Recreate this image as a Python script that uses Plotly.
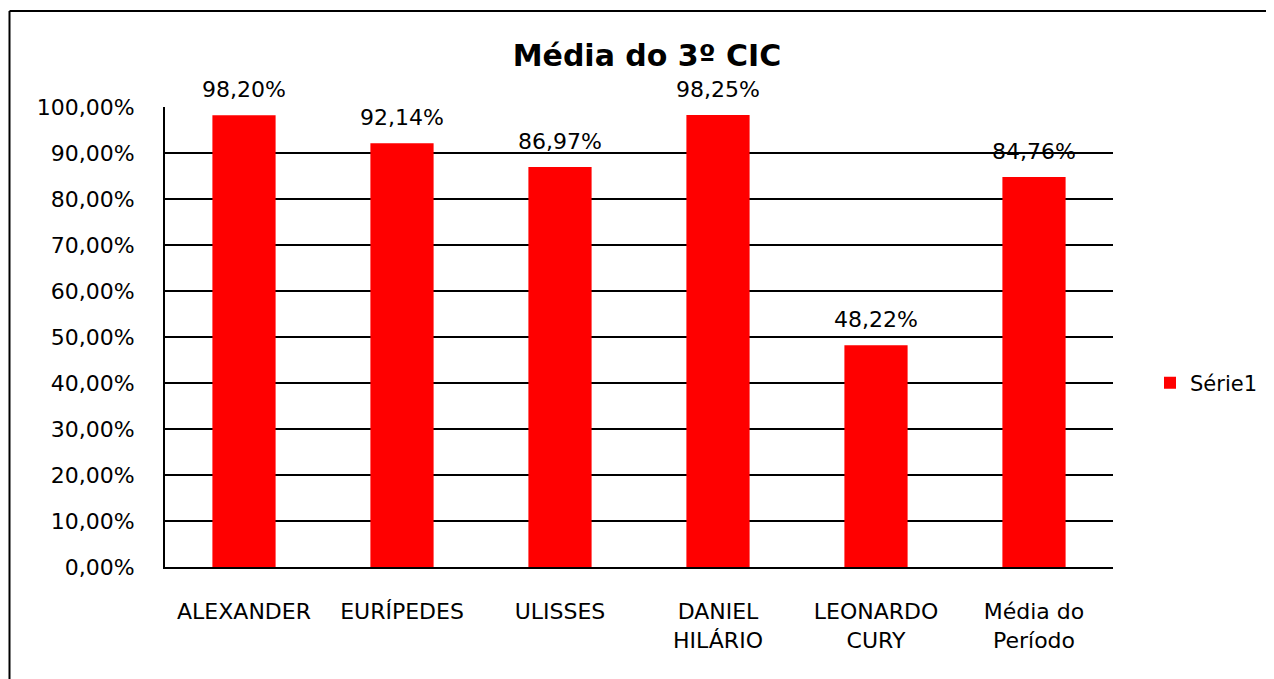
import plotly.graph_objects as go

categories = ["ALEXANDER", "EURÍPEDES", "ULISSES", "DANIEL<br>HILÁRIO", "LEONARDO<br>CURY", "Média do<br>Período"]
values_pct = [98.20, 92.14, 86.97, 98.25, 48.22, 84.76]
series_name = "Série1"
title_text = "<b>Média do 3º CIC</b>"

FONT = "DejaVu Sans"
OFF = 8  # page body margin
W, H = 1274 - OFF, 679 - OFF
L, R, T, B = 165 - OFF, 1113 - OFF, 107 - OFF, 567 - OFF

yvals = [v / 100 for v in values_pct]

fig = go.Figure()
fig.add_trace(go.Bar(
    x=categories, y=yvals, name=series_name,
    marker=dict(color="#FF0000", line=dict(width=0)),
    showlegend=True,
))

for c, v in zip(categories, values_pct):
    fig.add_annotation(
        x=c, y=v / 100, xref="x", yref="y",
        text=f"{v:.2f}%".replace(".", ","),
        showarrow=False, yanchor="bottom", yshift=11,
        font=dict(family=FONT, size=22, color="black"),
    )

pw, ph = R - L, B - T
bx = (1.5 - L) / pw
by = (B - (11 - OFF)) / ph
# outer chart border: only left and top edges are visible in the frame
fig.add_shape(type="line", xref="paper", yref="paper", x0=bx, x1=bx, y0=(B - H - 20) / ph, y1=by,
              line=dict(color="black", width=2), layer="below")
fig.add_shape(type="line", xref="paper", yref="paper", x0=bx, x1=(W + 20 - L) / pw, y0=by, y1=by,
              line=dict(color="black", width=2), layer="below")

fig.update_layout(
    width=W, height=H, autosize=False,
    margin=dict(l=L, r=W - R, t=T, b=H - B, pad=0),
    paper_bgcolor="white", plot_bgcolor="white",
    separators=",.",
    bargap=0.6,
    font=dict(family=FONT, size=22, color="black"),
    title=dict(text=title_text, x=(647 - OFF) / W, xanchor="center", y=1 - (55 - OFF) / H, yanchor="middle",
               font=dict(family=FONT, size=30, color="black")),
    legend=dict(x=(1150 - OFF - L) / pw, y=(B - (383 - OFF)) / ph, xanchor="left", yanchor="middle",
                font=dict(family=FONT, size=21, color="black"), bgcolor="rgba(0,0,0,0)"),
    xaxis=dict(showline=True, linecolor="black", linewidth=2, showgrid=False, ticks="",
               ticklabelstandoff=24, tickfont=dict(family=FONT, size=22, color="black")),
    yaxis=dict(range=[0, 1], dtick=0.1, tickformat=".2%", showline=True, linecolor="black", linewidth=2,
               showgrid=True, gridcolor="black", gridwidth=1.5, zeroline=False, ticks="",
               ticklabelstandoff=24, tickfont=dict(family=FONT, size=22, color="black")),
)

fig.write_html("out.html")
